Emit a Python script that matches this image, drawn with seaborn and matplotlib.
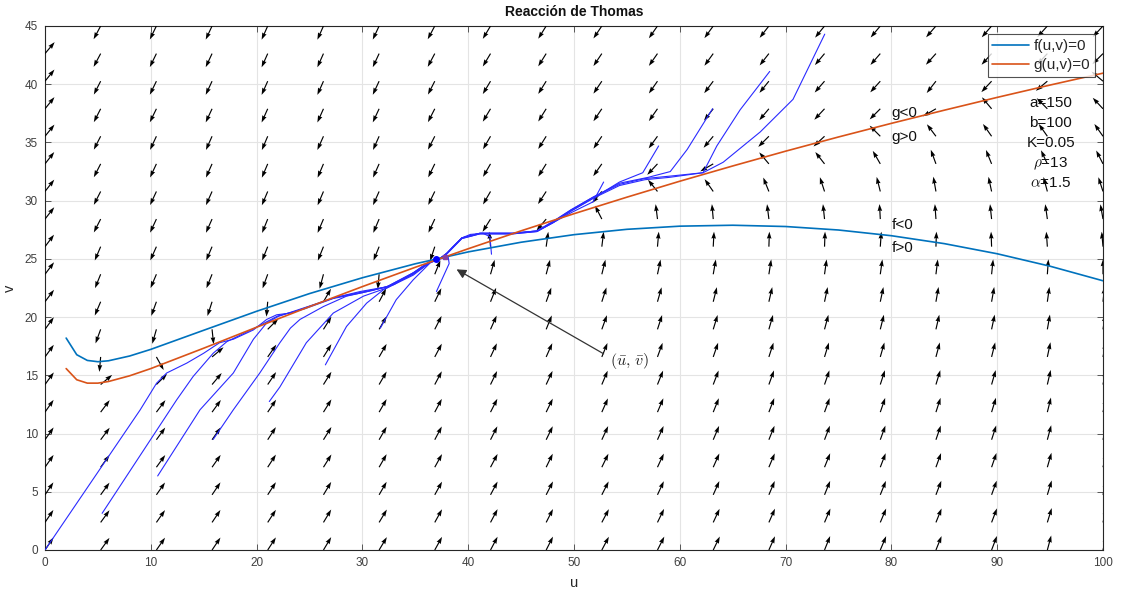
import numpy as np
import matplotlib
matplotlib.use("Agg")
import matplotlib.pyplot as plt
import seaborn as sns

# ---------------- data ----------------
# nullclines
u_null = [2, 3, 4, 5, 6, 8, 10, 15, 20, 25, 30, 35, 40, 45, 50, 55, 60, 65, 70, 75, 80, 85, 90, 95, 100]
v_f_null = [18.2, 16.77, 16.28, 16.17, 16.25, 16.66, 17.23, 18.87, 20.5, 22.02, 23.38, 24.58, 25.6, 26.43,
            27.08, 27.54, 27.81, 27.89, 27.78, 27.48, 26.99, 26.31, 25.44, 24.37, 23.12]
v_g_null = [15.58, 14.62, 14.33, 14.33, 14.47, 14.96, 15.58, 17.33, 19.13, 20.9, 22.62, 24.28, 25.87, 27.41,
            28.88, 30.3, 31.67, 32.98, 34.25, 35.47, 36.64, 37.77, 38.87, 39.93, 40.95]

# direction field grid
u_grid = [0, 5.26, 10.53, 15.79, 21.05, 26.32, 31.58, 36.84, 42.11, 47.37, 52.63, 57.89, 63.16, 68.42,
          73.68, 78.95, 84.21, 89.47, 94.74, 100]
v_grid_top_down = [45, 42.63, 40.26, 37.89, 35.53, 33.16, 30.79, 28.42, 26.05, 23.68, 21.32, 18.95, 16.58,
                   14.21, 11.84, 9.47, 7.11, 4.74, 2.37, 0]
# on-screen arrow direction (degrees) for every column, listed from top row to bottom row
arrow_angle_col = [
    [50, 50, 51, 51, 51, 52, 52, 52, 53, 53, 53, 54, 54, 54, 55, 55, 55, 56, 56, 56],
    [-118, -118, -117, -117, -117, -117, -117, -117, -113, -112, -113, -110, -95, 40, 53, 53, 54, 54, 54, 54],
    [-116, -116, -116, -116, -115, -115, -115, -115, -114, -113, -110, -106, -61, 45, 53, 54, 54, 55, 55, 55],
    [-115, -115, -115, -115, -114, -114, -114, -114, -113, -112, -108, -84, 40, 50, 54, 55, 55, 56, 56, 56],
    [-114, -114, -114, -114, -113, -113, -113, -112, -112, -110, -95, 45, 55, 56, 56, 57, 57, 57, 57, 57],
    [-114, -114, -114, -114, -114, -113, -113, -113, -112, -105, 60, 58, 58, 58, 58, 58, 58, 59, 59, 59],
    [-115, -115, -115, -115, -114, -114, -114, -113, -112, -95, 62, 60, 60, 60, 60, 60, 60, 60, 59, 59],
    [-118, -118, -117, -117, -117, -116, -116, -115, -108, 68, 64, 63, 62, 62, 62, 62, 61, 61, 61, 61],
    [-121, -121, -121, -121, -120, -120, -120, -122, 95, 74, 68, 66, 65, 64, 63, 63, 62, 62, 62, 62],
    [-122, -122, -122, -122, -122, -122, -123, -130, 82, 75, 70, 68, 66, 65, 64, 64, 64, 63, 63, 63],
    [-124, -124, -124, -124, -124, -125, -130, 117, 83, 76, 72, 70, 68, 67, 66, 65, 64, 63, 62, 62],
    [-125, -125, -125, -125, -126, -133, 129, 97, 85, 78, 74, 72, 70, 68, 67, 66, 65, 65, 64, 63],
    [-126, -126, -127, -128, -130, -150, 125, 95, 87, 80, 76, 73, 71, 69, 68, 67, 66, 66, 65, 64],
    [-128, -128, -129, -130, -135, 130, 112, 97, 88, 81, 77, 74, 72, 70, 69, 68, 67, 67, 66, 66],
    [-129, -130, -131, -133, -137, 128, 108, 96, 88, 82, 78, 75, 73, 71, 70, 69, 68, 68, 67, 68],
    [-130, -131, -132, -135, 135, 120, 104, 93, 86, 82, 78, 76, 74, 72, 71, 70, 69, 68, 67, 67],
    [-131, -132, -128, -150, 127, 110, 100, 94, 88, 83, 80, 77, 75, 73, 72, 71, 70, 69, 68, 68],
    [-131, -132, -133, 130, 125, 112, 102, 96, 92, 84, 80, 78, 76, 74, 73, 72, 71, 70, 69, 69],
    [-132, -133, -140, 135, 125, 115, 105, 98, 94, 86, 82, 80, 78, 77, 76, 75, 74, 73, 73, 75],
    [-133, -135, 140, 133, 125, 117, 108, 100, 95, 90, 84, 81, 79, 78, 77, 76, 76, 76, 76, 76],
]

# trajectories
traj_u = [
    [0, 9.0, 10.55, 11.5, 13.4, 15.0, 16.5, 17.8, 19.7, 20.95, 21.9, 23.2, 27.25, 29.8, 32.3, 34.8, 36.4, 37.3],
    [5.4, 12.45, 14.0, 15.9, 17.2, 19.7, 22.0, 24.5, 27.25, 30.0, 32.3, 34.8, 36.4, 37.3],
    [10.65, 14.65, 17.8, 19.7, 20.95, 22.05, 24.5, 27.5, 30.2, 32.4, 34.8, 36.4, 37.3],
    [15.9, 17.8, 20.3, 22.2, 23.2, 24.1, 26.3, 28.5, 31.0, 33.0, 35.0, 36.5, 37.3],
    [21.2, 22.2, 24.7, 27.25, 30.1, 32.3, 34.8, 36.4, 37.3],
    [26.5, 28.5, 30.4, 32.0, 34.8, 36.4, 37.3],
    [31.7, 33.2, 34.8, 36.4, 37.3],
    [37.0, 37.65, 38.2, 38.1, 37.4],
    [42.2, 42.06, 41.4, 40.2, 39.4, 38.5, 37.8, 37.3],
    [73.7, 70.7, 67.6, 64.1, 62.2, 59.0, 56.7, 54.3, 51.8, 49.7, 48.0, 46.5, 44.2, 41.1, 39.4, 38.0, 37.3],
    [68.5, 65.7, 63.5, 62.2, 59.0, 56.7, 54.3, 51.8, 49.7, 48.0, 46.5, 44.2, 41.1, 39.4, 38.0, 37.3],
    [63.1, 60.7, 59.1, 57.0, 54.3, 51.8, 49.7, 48.0, 46.5, 44.2, 41.1, 39.4, 38.0, 37.3],
    [58.0, 56.5, 54.3, 51.8, 49.7, 48.0, 46.5, 44.2, 41.1, 39.4, 38.0, 37.3],
    [52.8, 51.8, 49.8, 48.0, 46.5, 44.2, 41.1, 39.4, 38.0, 37.3],
]
traj_v = [
    [0, 12.04, 14.33, 15.2, 16.05, 16.9, 17.8, 18.1, 18.9, 19.8, 20.2, 20.35, 21.64, 22.2, 22.6, 23.8, 24.8, 25.0],
    [3.15, 12.9, 14.9, 16.9, 17.9, 19.0, 20.1, 20.7, 21.6, 22.1, 22.6, 23.8, 24.8, 25.0],
    [6.36, 12.04, 15.2, 18.1, 19.5, 20.06, 20.8, 21.7, 22.2, 22.6, 23.7, 24.7, 25.0],
    [9.5, 12.04, 15.2, 17.8, 19.06, 19.8, 20.9, 21.8, 22.3, 22.8, 23.9, 24.8, 25.0],
    [12.75, 14.0, 17.8, 20.35, 21.8, 22.5, 23.7, 24.7, 25.0],
    [15.9, 19.2, 21.2, 22.36, 23.6, 24.7, 25.0],
    [19.06, 21.5, 23.2, 24.65, 25.0],
    [22.2, 23.5, 24.6, 25.2, 25.0],
    [25.4, 26.9, 27.2, 27.1, 26.8, 26.0, 25.3, 25.05],
    [44.3, 38.7, 35.9, 33.3, 32.4, 32.1, 31.9, 31.4, 30.3, 29.2, 28.2, 27.4, 27.2, 27.2, 26.8, 25.5, 25.0],
    [41.1, 37.8, 34.7, 32.4, 32.0, 31.8, 31.3, 30.2, 29.1, 28.1, 27.35, 27.15, 27.15, 26.75, 25.45, 25.0],
    [37.9, 34.4, 32.5, 32.0, 31.5, 30.3, 29.2, 28.2, 27.4, 27.2, 27.2, 26.8, 25.5, 25.0],
    [34.7, 32.4, 31.6, 30.2, 29.1, 28.1, 27.35, 27.15, 27.15, 26.75, 25.45, 25.0],
    [31.6, 29.9, 29.0, 28.1, 27.4, 27.2, 27.2, 26.8, 25.5, 25.0],
]

eq_u, eq_v = 37.0, 25.0
param_lines = ["a=150", "b=100", "K=0.05", r"$\rho$=13", r"$\alpha$=1.5"]
region_labels = ["g<0", "g>0", "f<0", "f>0"]

# ---------------- drawing ----------------
sns.set_theme(style="whitegrid")
plt.rcParams["font.family"] = ["Liberation Sans", "DejaVu Sans"]
plt.rcParams["mathtext.fontset"] = "cm"

fig = plt.figure(figsize=(11.21, 5.90), dpi=100)
ax = fig.add_axes([45 / 1121, 1 - 550 / 590, (1103 - 45) / 1121, (550 - 26) / 590])
ax.set_facecolor("white")

# direction field
X, Y = np.meshgrid(np.array(u_grid), np.array(v_grid_top_down))
ang = np.deg2rad(np.array(arrow_angle_col).T)
ax.quiver(X, Y, np.cos(ang), np.sin(ang), angles="uv", pivot="tail",
          scale_units="inches", scale=1 / 0.15, width=0.0011, headwidth=4.0,
          headlength=6.0, headaxislength=5.5, color="black", zorder=3)

# trajectories
for tu, tv in zip(traj_u, traj_v):
    sns.lineplot(x=tu, y=tv, ax=ax, color="#2a2aff", lw=0.8, sort=False,
                 estimator=None, legend=False, zorder=4)

# nullclines
sns.lineplot(x=u_null, y=v_f_null, ax=ax, color="#0072BD", lw=1.2, sort=False,
             estimator=None, label="f(u,v)=0", zorder=5)
sns.lineplot(x=u_null, y=v_g_null, ax=ax, color="#D95319", lw=1.2, sort=False,
             estimator=None, label="g(u,v)=0", zorder=5)

# equilibrium markers
ax.plot([eq_u], [eq_v], marker="o", color="#0000ff", ms=4, zorder=6)
ax.plot([eq_u + 0.8], [eq_v + 0.2], marker="s", color="#8a3fa0", ms=3, zorder=6)

# annotation arrow
ax.annotate("", xy=(38.9, 24.1), xytext=(52.8, 16.85),
            arrowprops=dict(arrowstyle="-|>", color="#333333", lw=0.9,
                            mutation_scale=14, shrinkA=0, shrinkB=0), zorder=7)
ax.text(53.4, 16.2, r"$(\bar{u},\,\bar{v})$", fontsize=11.5, va="center", ha="left", color="#222222")

# region labels
for lab, vv in zip(region_labels, [37.55, 35.5, 27.95, 25.9]):
    ax.text(80.0, vv, lab, fontsize=11, va="center", ha="left", color="#111111", zorder=8)
for lab, vv in zip(param_lines, [38.4, 36.7, 34.97, 33.2, 31.5]):
    ax.text(95.05, vv, lab, fontsize=11, va="center", ha="center", color="#111111", zorder=8)

ax.set_xlim(0, 100)
ax.set_ylim(0, 45)
ax.set_xticks(np.arange(0, 101, 10))
ax.set_yticks(np.arange(0, 46, 5))
ax.grid(True, color="#e4e4e4", lw=0.8)
ax.set_axisbelow(True)
for s in ax.spines.values():
    s.set_color("#262626")
    s.set_linewidth(0.8)
ax.tick_params(direction="in", length=4, width=0.6, colors="#404040", labelsize=8.5,
               top=True, right=True, bottom=True, left=True, pad=5)
ax.set_xlabel("u", fontsize=10.5, color="#262626", labelpad=5)
ax.set_ylabel("v", fontsize=10.5, color="#262626", labelpad=6)
ax.set_title("Reacción de Thomas", fontsize=10, fontweight="bold", color="#111111", pad=7)

leg = ax.legend(loc="upper right", fontsize=11, frameon=True, fancybox=False,
                borderaxespad=0.55, handlelength=2.4, borderpad=0.3, labelspacing=0.35,
                handletextpad=0.3)
leg.get_frame().set_edgecolor("#262626")
leg.get_frame().set_linewidth(0.8)
leg.set_zorder(10)

fig.savefig("out.png", dpi=100, facecolor="white")
